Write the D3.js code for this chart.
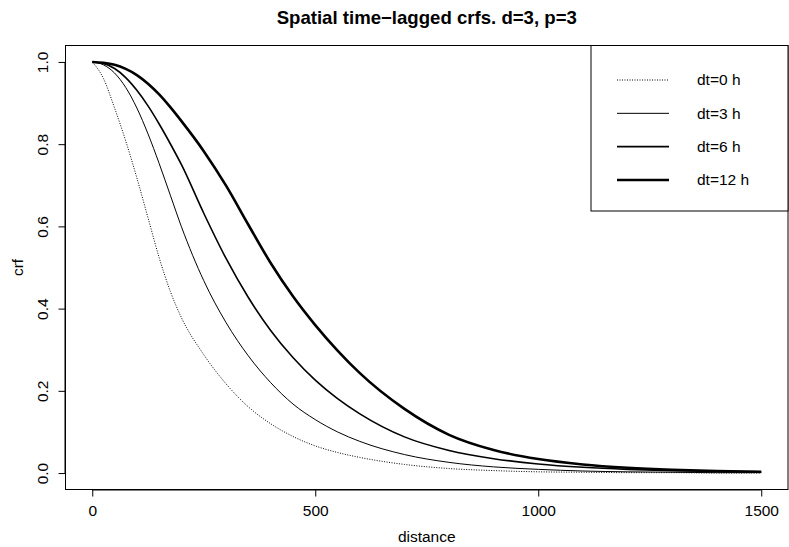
<!DOCTYPE html>
<html>
<head>
<meta charset="utf-8">
<script src="https://cdn.jsdelivr.net/npm/d3@7"></script>
<style>
  body { margin: 0; background: #fff; }
  svg text { font-family: "Liberation Sans", Arial, Helvetica, sans-serif; fill: #000; }
</style>
</head>
<body>
<div id="chart"></div>
<script>
// values
var distances = [0, 25, 50, 75, 100, 125, 150, 175, 200, 250, 300, 350, 400, 450, 500,
                 550, 600, 700, 800, 900, 1000, 1100, 1200, 1300, 1400, 1500];
var crfDt0  = [1.000, 0.960, 0.888, 0.808, 0.718, 0.621, 0.524, 0.442, 0.378, 0.288, 0.217, 0.161, 0.120, 0.089, 0.066,
               0.050, 0.038, 0.021, 0.011, 0.006, 0.003, 0.002, 0.001, 0.001, 0.000, 0.000];
var crfDt3  = [1.000, 0.993, 0.973, 0.938, 0.888, 0.825, 0.753, 0.676, 0.599, 0.468, 0.366, 0.285, 0.220, 0.168, 0.130,
               0.100, 0.077, 0.045, 0.026, 0.015, 0.009, 0.005, 0.003, 0.002, 0.001, 0.001];
var crfDt6  = [1.000, 0.996, 0.984, 0.962, 0.931, 0.893, 0.849, 0.801, 0.750, 0.632, 0.522, 0.427, 0.347, 0.281, 0.226,
               0.181, 0.144, 0.088, 0.055, 0.035, 0.022, 0.014, 0.009, 0.006, 0.004, 0.003];
var crfDt12 = [1.000, 0.998, 0.993, 0.983, 0.968, 0.947, 0.921, 0.890, 0.856, 0.783, 0.699, 0.604, 0.511, 0.430, 0.360,
               0.298, 0.243, 0.156, 0.093, 0.056, 0.034, 0.021, 0.013, 0.008, 0.005, 0.003];
var seriesLabels = ["dt=0 h", "dt=3 h", "dt=6 h", "dt=12 h"];
var xTicks = [0, 500, 1000, 1500];
var yTicks = [0.0, 0.2, 0.4, 0.6, 0.8, 1.0];

var width = 789, height = 547;
var plot = {left: 65.5, right: 788, top: 45.5, bottom: 489.5};
var fontSize = 15.5;

var svg = d3.select("#chart").append("svg")
    .attr("width", width)
    .attr("height", height);

// R style axes: data range padded by 4%
var xScale = d3.scaleLinear().domain([-60, 1560]).range([plot.left, plot.right]);
var yScale = d3.scaleLinear().domain([-0.04, 1.04]).range([plot.bottom, plot.top]);

var styles = [
    {width: 1,   dash: "1,1.5"},
    {width: 1,   dash: null},
    {width: 1.6, dash: null},
    {width: 2.6, dash: null}
];
var allSeries = [crfDt0, crfDt3, crfDt6, crfDt12];

var line = d3.line()
    .x(function(d, i) { return xScale(distances[i]); })
    .y(function(d) { return yScale(d); })
    .curve(d3.curveMonotoneX);

allSeries.forEach(function(s, k) {
    svg.append("path")
        .datum(s)
        .attr("d", line)
        .attr("fill", "none")
        .attr("stroke", "#000")
        .attr("stroke-width", styles[k].width)
        .attr("stroke-dasharray", styles[k].dash);
});

// axes
var xAxis = d3.axisBottom(xScale).tickValues(xTicks).tickSize(7).tickPadding(8)
    .tickFormat(d3.format("d"));
var gx = svg.append("g")
    .attr("transform", "translate(0," + plot.bottom + ")")
    .call(xAxis);
gx.select(".domain").attr("d", "M" + xScale(0) + ",0.5H" + xScale(1500));
gx.selectAll("text").attr("font-size", fontSize).attr("dy", "0.71em");

var yAxis = d3.axisLeft(yScale).tickValues(yTicks).tickSize(7).tickPadding(0)
    .tickFormat(d3.format(".1f"));
var gy = svg.append("g")
    .attr("transform", "translate(" + plot.left + ",0)")
    .call(yAxis);
gy.select(".domain").attr("d", "M-0.5," + yScale(0) + "V" + yScale(1));
gy.selectAll("text")
    .attr("font-size", fontSize)
    .attr("text-anchor", "middle")
    .attr("x", 0)
    .attr("transform", "translate(-22.5,0) rotate(-90)")
    .attr("dy", "0.35em");
svg.selectAll(".domain, .tick line").attr("stroke", "#000");

// box
svg.append("rect")
    .attr("x", plot.left).attr("y", plot.top)
    .attr("width", plot.right - plot.left).attr("height", plot.bottom - plot.top)
    .attr("fill", "none").attr("stroke", "#000").attr("stroke-width", 1);

// titles
svg.append("text")
    .attr("x", (plot.left + plot.right) / 2).attr("y", 24)
    .attr("text-anchor", "middle")
    .attr("font-size", 18.6).attr("font-weight", "bold")
    .text("Spatial time\u2212lagged crfs. d=3, p=3");
svg.append("text")
    .attr("x", (plot.left + plot.right) / 2).attr("y", 542)
    .attr("text-anchor", "middle").attr("font-size", fontSize)
    .text("distance");
svg.append("text")
    .attr("transform", "translate(23," + (plot.top + plot.bottom) / 2 + ") rotate(-90)")
    .attr("text-anchor", "middle").attr("font-size", fontSize)
    .text("crf");

// legend
var legend = svg.append("g");
legend.append("rect")
    .attr("x", 591).attr("y", plot.top)
    .attr("width", plot.right - 591).attr("height", 211 - plot.top)
    .attr("fill", "#fff").attr("stroke", "#000");
var legendY = d3.scalePoint().domain(seriesLabels).range([80, 180]);
seriesLabels.forEach(function(lbl, k) {
    legend.append("line")
        .attr("x1", 617).attr("x2", 669)
        .attr("y1", legendY(lbl)).attr("y2", legendY(lbl))
        .attr("stroke", "#000")
        .attr("stroke-width", styles[k].width)
        .attr("stroke-dasharray", styles[k].dash);
    legend.append("text")
        .attr("x", 697).attr("y", legendY(lbl))
        .attr("dy", "0.35em").attr("font-size", fontSize)
        .text(lbl);
});
</script>
</body>
</html>
